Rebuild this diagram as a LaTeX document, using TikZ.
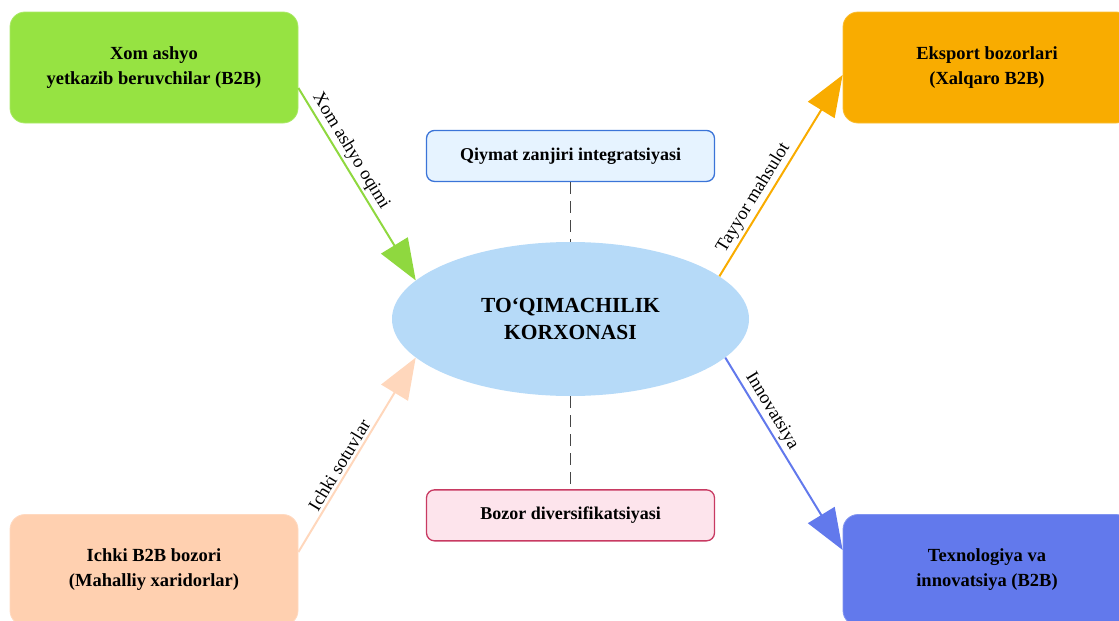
\documentclass[tikz,border=0pt]{standalone}
\usepackage{fontspec}
\setmainfont{Liberation Serif}
\usetikzlibrary{shapes.geometric,positioning,arrows.meta}

\definecolor{supgreen}{HTML}{96E342}
\definecolor{expamber}{HTML}{F9AC00}
\definecolor{locpeach}{HTML}{FFD0B0}
\definecolor{techblue}{HTML}{6279EC}
\definecolor{centblue}{HTML}{B6DAF8}
\definecolor{valfill}{HTML}{E6F3FF}
\definecolor{valline}{HTML}{3B74D8}
\definecolor{divfill}{HTML}{FDE4EC}
\definecolor{divline}{HTML}{C83A62}

\begin{document}
\begin{tikzpicture}[x=1pt, y=-1pt,
    corner/.style={draw=#1!80!white, fill=#1, line width=0.8pt, rounded corners=15pt,
        minimum width=288pt, minimum height=111pt, align=center,
        font=\bfseries\fontsize{18.5}{25}\selectfont},
    tag/.style={rounded corners=8pt, line width=1.3pt, minimum width=288pt, minimum height=51pt,
        inner sep=0pt, font=\bfseries\fontsize{18}{22}\selectfont},
    flow/.style={line width=2pt, -{Triangle[length=41pt,width=31pt]}},
    lbl/.style={sloped, above, inner sep=2.5pt, text=black, font=\fontsize{18.5}{22}\selectfont},
    link/.style={gray!55!black, line width=1.1pt, dash pattern=on 12pt off 7pt}]
    \useasboundingbox (0,0) rectangle (1119,621);

    % Central enterprise
    \node[draw=none, ellipse, fill=centblue, minimum width=357pt, minimum height=154pt, inner sep=0pt,
        align=center, font=\bfseries\fontsize{21.5}{27}\selectfont] (cent) at (570.5,319) {TO‘QIMACHILIK\\KORXONASI};

    % Partners in the four corners
    \node[corner=supgreen] (sup) at (154,67.5) {Xom ashyo\\yetkazib beruvchilar (B2B)};
    \node[corner=expamber] (exp) at (987,67.5) {Eksport bozorlari\\(Xalqaro B2B)};
    \node[corner=locpeach] (loc) at (154,570) {Ichki B2B bozori\\(Mahalliy xaridorlar)};
    \node[corner=techblue] (tech) at (987,570) {Texnologiya va\\innovatsiya (B2B)};

    % Strategy tags
    \node[tag, draw=valline, fill=valfill, above=59.7pt of cent] (val) {Qiymat zanjiri integratsiyasi};
    \node[tag, draw=divline, fill=divfill, below=93pt of cent] (div) {Bozor diversifikatsiyasi};

    % Flows
    \draw[flow, supgreen!95!black] ([yshift=-20.5pt]sup.east) -- node[lbl, pos=0.36] {Xom ashyo oqimi} (cent.166);
    \draw[flow, expamber] (cent.16) -- node[lbl, pos=0.36] {Tayyor mahsulot} ([yshift=-7.5pt]exp.west);
    \draw[flow, locpeach!85!white] ([yshift=18pt]loc.east) -- node[lbl, pos=0.42] {Ichki sotuvlar} (cent.194);
    \draw[flow, techblue] (cent.-14) -- node[lbl, pos=0.31] {Innovatsiya} ([yshift=20pt]tech.west);

    % Tag links
    \draw[link] (val.south) -- (cent.north);
    \draw[link] (cent.south) -- (div.north);
\end{tikzpicture}
\end{document}
